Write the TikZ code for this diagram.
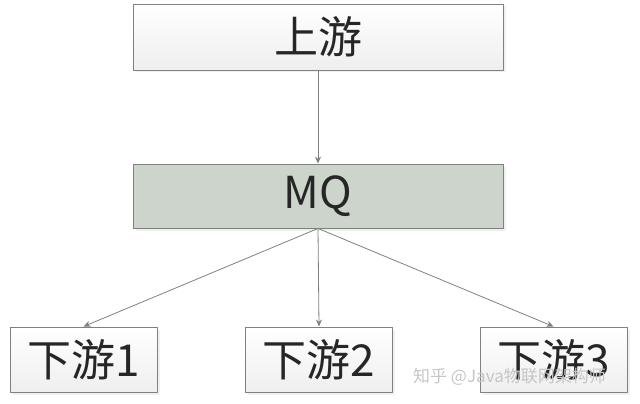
\documentclass[tikz,border=0pt]{standalone}
\usepackage{fontspec}
\newfontfamily\cjk{Noto Sans CJK SC}
\usepackage{tikz}
\usetikzlibrary{arrows.meta}
\usetikzlibrary{shadows}
\definecolor{boxline}{rgb}{0.5, 0.5, 0.5}
\definecolor{mqfill}{rgb}{0.80, 0.83, 0.80}
\definecolor{textcol}{rgb}{0.15, 0.15, 0.15}
\tikzset{
  box/.style={draw=boxline,line width=0.9pt,rectangle,top color=white,bottom color=gray!13,
    drop shadow={opacity=0.12,shadow xshift=2.5pt,shadow yshift=-2.5pt},
    text=textcol,font=\cjk\fontsize{44}{50}\selectfont,inner sep=0pt},
  link/.style={draw=boxline,line width=0.8pt,-{Stealth[length=7pt,width=6pt]}}
}
\begin{document}
\begin{tikzpicture}[line cap=round,line join=round,x=1pt,y=-1pt]
\useasboundingbox (0,0) rectangle (640,404);
\node[box,minimum width=370pt,minimum height=66pt] (up) at (318,37) {上游};
\node[box,top color=mqfill,bottom color=mqfill,minimum width=370pt,minimum height=64pt] (mq) at (318,196) {MQ};
\foreach \i/\x in {1/83.5,2/319,3/553.5}
\node[box,minimum width=147pt,minimum height=65pt] (down\i) at (\x,359.5) {下游\i};
\draw[link] (up.south) -- (mq.north);
\foreach \i in {1,2,3}
\draw[link] (mq.south) -- (down\i.north);
% watermark
\node[text=gray!45,font=\cjk\fontsize{17}{20}\selectfont,anchor=west,inner sep=0pt] (mark) at (413,377) {知乎 @Java物联网架构师};
\end{tikzpicture}
\end{document}
